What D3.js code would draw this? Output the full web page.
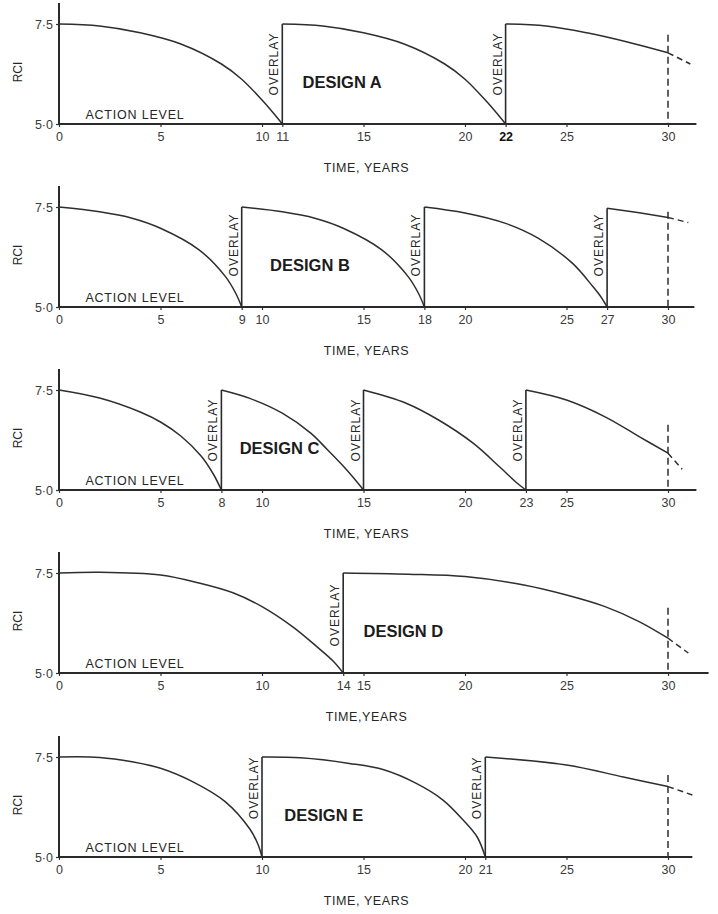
<!DOCTYPE html>
<html>
<head>
<meta charset="utf-8">
<script src="https://cdn.jsdelivr.net/npm/d3@7"></script>
<style>
  body { margin: 0; background: #fff; }
  text { font-family: "Liberation Sans", Arial, sans-serif; fill: #262626; }
  .axis-line { stroke: #2a2a2a; stroke-width: 2; }
  .curve { fill: none; stroke: #2e2e2e; stroke-width: 1.5; }
  .overlay-line { stroke: #2a2a2a; stroke-width: 1.6; }
  .marker { stroke: #2e2e2e; stroke-width: 1.5; stroke-dasharray: 7,4; }
  .tail { fill: none; stroke: #2e2e2e; stroke-width: 1.5; stroke-dasharray: 6,4; }
  .tick line { stroke: #333; stroke-width: 1.2; }
  .tick text { font-size: 12.5px; fill: #3a3a3a; }
</style>
</head>
<body>
<svg id="chart" width="718" height="914"></svg>
<script>
// ---- data (time in years, RCI) ----
const designs = ["A", "B", "C", "D", "E"];

const ticksA = [0, 5, 10, 11, 15, 20, 22, 25, 30];
const ticksB = [0, 5, 9, 10, 15, 18, 20, 25, 27, 30];
const ticksC = [0, 5, 8, 10, 15, 20, 23, 25, 30];
const ticksD = [0, 5, 10, 14, 15, 20, 25, 30];
const ticksE = [0, 5, 10, 15, 20, 21, 25, 30];

const overlaysA = [11, 22];
const overlaysB = [9, 18, 27];
const overlaysC = [8, 15, 23];
const overlaysD = [14];
const overlaysE = [10, 21];

// one array per service cycle, overlay restores RCI to 7.5
const rciA = [
  [[0, 7.5], [2, 7.45], [4, 7.28], [6, 7.0], [8, 6.5], [9, 6.12], [10, 5.6], [10.6, 5.25], [11, 5.0]],
  [[11, 7.5], [13, 7.45], [15, 7.28], [17, 7.0], [19, 6.5], [20, 6.12], [21, 5.6], [21.6, 5.25], [22, 5.0]],
  [[22, 7.5], [24, 7.45], [26, 7.28], [28, 7.05], [30, 6.78]]
];
const rciB = [
  [[0, 7.5], [2, 7.38], [3.6, 7.22], [5, 6.97], [6.9, 6.43], [8.2, 5.76], [8.7, 5.35], [9, 5.0]],
  [[9, 7.5], [11, 7.38], [12.6, 7.22], [14, 6.97], [15.9, 6.43], [17.2, 5.76], [17.7, 5.35], [18, 5.0]],
  [[18, 7.5], [20, 7.35], [22, 7.09], [23.6, 6.72], [25.3, 6.09], [26.3, 5.51], [26.7, 5.25], [27, 5.0]],
  [[27, 7.47], [28.5, 7.36], [30, 7.24]]
];
const rciC = [
  [[0, 7.5], [2, 7.3], [4, 6.95], [5, 6.7], [6, 6.35], [7, 5.85], [7.6, 5.4], [8, 5.0]],
  [[8, 7.5], [9.4, 7.29], [11, 6.92], [12.4, 6.42], [13.2, 6.02], [14, 5.6], [14.6, 5.25], [15, 5.0]],
  [[15, 7.5], [17.1, 7.17], [18.7, 6.75], [20.4, 6.17], [21.7, 5.58], [22.5, 5.2], [23, 5.0]],
  [[23, 7.5], [25, 7.25], [26.9, 6.83], [28.6, 6.33], [30, 5.92]]
];
const rciD = [
  [[0, 7.5], [2, 7.52], [5, 7.45], [6.9, 7.25], [8.6, 7.0], [10, 6.66], [11.5, 6.16], [12.7, 5.66], [13.5, 5.3], [14, 5.0]],
  [[14, 7.5], [17.2, 7.47], [20, 7.41], [22.9, 7.2], [25, 6.95], [26.9, 6.66], [28.6, 6.28], [30, 5.87]]
];
const rciE = [
  [[0, 7.5], [2, 7.49], [3.6, 7.38], [5, 7.22], [6.6, 6.88], [8.2, 6.38], [9.4, 5.7], [9.8, 5.32], [10, 5.0]],
  [[10, 7.5], [11.9, 7.48], [14.3, 7.34], [16, 7.18], [17.6, 6.84], [18.9, 6.43], [19.9, 5.93], [20.6, 5.5], [21, 5.0]],
  [[21, 7.5], [25, 7.3], [27.8, 7.0], [30, 6.76]]
];

// projected trend beyond year 30 (dashed)
const tailA = [[30, 6.78], [31.1, 6.5]];
const tailB = [[30, 7.24], [31, 7.11]];
const tailC = [[30, 5.92], [30.7, 5.52]];
const tailD = [[30, 5.87], [31, 5.5]];
const tailE = [[30, 6.76], [31.2, 6.55]];

// top of the dashed 30-year marker (RCI)
const markerTop = [7.23, 7.38, 6.63, 6.63, 7.05];

const panels = [
  { name: "A", ticks: ticksA, overlays: overlaysA, cycles: rciA, tail: tailA, time: "TIME, YEARS" },
  { name: "B", ticks: ticksB, overlays: overlaysB, cycles: rciB, tail: tailB, time: "TIME, YEARS" },
  { name: "C", ticks: ticksC, overlays: overlaysC, cycles: rciC, tail: tailC, time: "TIME, YEARS" },
  { name: "D", ticks: ticksD, overlays: overlaysD, cycles: rciD, tail: tailD, time: "TIME,YEARS" },
  { name: "E", ticks: ticksE, overlays: overlaysE, cycles: rciE, tail: tailE, time: "TIME, YEARS" }
];

// ---- layout ----
const panelTop = [24, 207, 390, 573, 757];      // pixel y of RCI 7.5 in each panel
const axisEnd = [31.4, 31.3, 31.4, 32.0, 31.2];  // where the time axis stops
const designLabelAt = [12.0, 10.4, 8.9, 15.0, 11.1];
const overlayMid = [6.5, 6.55, 6.5, 6.45, 6.73];

const svg = d3.select("#chart");
const x = d3.scaleLinear().domain([0, 30]).range([59, 668]);
const y = d3.scaleLinear().domain([5, 7.5]).range([100, 0]);

const line = d3.line()
  .x(d => x(d[0]))
  .y(d => y(d[1]))
  .curve(d3.curveCatmullRom.alpha(0.5));

panels.forEach((p, i) => {
  const g = svg.append("g").attr("transform", `translate(0,${panelTop[i]})`);

  // x axis ticks + labels
  const xAxis = d3.axisBottom(x)
    .tickValues(p.ticks)
    .tickSize(3)
    .tickSizeOuter(0)
    .tickPadding(5)
    .tickFormat(d3.format("d"));
  const gx = g.append("g").attr("transform", `translate(0,${y(5)})`).call(xAxis);
  gx.select(".domain").remove();
  if (p.name === "A") {
    gx.selectAll(".tick text").filter(d => d === 22)
      .style("font-weight", "bold").style("fill", "#111");
  }

  // y axis ticks
  const yAxis = d3.axisLeft(y)
    .tickValues([5, 7.5])
    .tickSize(3)
    .tickPadding(3)
    .tickFormat(d => d.toFixed(1).replace(".", "\u00B7"));
  const gy = g.append("g").attr("transform", `translate(${x(0)},0)`).call(yAxis);
  gy.select(".domain").remove();

  // axis lines
  g.append("line").attr("class", "axis-line")
    .attr("x1", x(0)).attr("x2", x(axisEnd[i]))
    .attr("y1", y(5)).attr("y2", y(5));
  g.append("line").attr("class", "axis-line")
    .attr("x1", x(0)).attr("x2", x(0))
    .attr("y1", y(5) + 1).attr("y2", -21);

  // RCI curves per cycle
  g.selectAll(".curve")
    .data(p.cycles)
    .enter().append("path")
    .attr("class", "curve")
    .attr("d", line);

  // overlays: vertical jump back to 7.5
  g.selectAll(".overlay-line")
    .data(p.overlays)
    .enter().append("line")
    .attr("class", "overlay-line")
    .attr("x1", d => x(d)).attr("x2", d => x(d))
    .attr("y1", y(5)).attr("y2", d => {
      const next = p.cycles.find(c => c[0][0] === d);
      return y(next ? next[0][1] : 7.5);
    });

  g.selectAll(".overlay-text")
    .data(p.overlays)
    .enter().append("text")
    .attr("class", "overlay-text")
    .attr("transform", d => `translate(${x(d) - 4},${y(overlayMid[i])}) rotate(-90)`)
    .attr("text-anchor", "middle")
    .style("font-size", "12px")
    .style("letter-spacing", "1px")
    .text("OVERLAY");

  // 30-year marker and projected trend
  g.append("line").attr("class", "marker")
    .attr("x1", x(30)).attr("x2", x(30))
    .attr("y1", y(markerTop[i])).attr("y2", y(5));
  g.append("path").attr("class", "tail").attr("d", line(p.tail));

  // labels
  g.append("text")
    .attr("x", x(1.3)).attr("y", y(5) - 5)
    .style("font-size", "12.5px")
    .style("letter-spacing", "0.8px")
    .text("ACTION LEVEL");

  g.append("text")
    .attr("x", x(designLabelAt[i])).attr("y", y(6.05))
    .attr("dy", "0.36em")
    .style("font-size", "16.5px")
    .style("font-weight", "bold")
    .style("fill", "#1c1c1c")
    .text("DESIGN " + p.name);

  g.append("text")
    .attr("x", x(15.15)).attr("y", y(5) + 43)
    .attr("dy", "0.36em")
    .attr("text-anchor", "middle")
    .style("font-size", "12.5px")
    .style("letter-spacing", "0.6px")
    .text(p.time);

  g.append("text")
    .attr("transform", `translate(22,${y(6.3)}) rotate(-90)`)
    .attr("text-anchor", "middle")
    .style("font-size", "12px")
    .text("RCI");
});
</script>
</body>
</html>
